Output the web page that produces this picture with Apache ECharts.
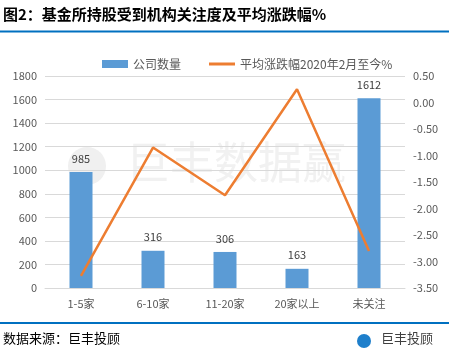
<!DOCTYPE html>
<html><head><meta charset="utf-8">
<script src="https://cdn.jsdelivr.net/npm/echarts@6/dist/echarts.min.js"></script>
<style>html,body{margin:0;padding:0;background:#fff}#c{width:449px;height:357px}</style>
</head><body><div id="c"></div>
<script>
const categories = ['1-5家','6-10家','11-20家','20家以上','未关注'];
const companyCount = [985, 316, 306, 163, 1612];
const avgChange = [-3.27, -0.85, -1.75, 0.25, -2.80];
const leftTicks = [0, 1800, 200];
const rightTicks = [-3.5, 0.5, 0.5];

const FONT = '"Noto Sans CJK SC", "Noto Sans", sans-serif';
const chart = echarts.init(document.getElementById('c'));
chart.setOption({
  animation: false,
  backgroundColor: '#fff',
  textStyle: { fontFamily: FONT },
  graphic: [
    { type: 'text', left: 3, top: 7, style: { text: '图2：基金所持股受到机构关注度及平均涨跌幅%', font: 'bold 15px ' + FONT, fill: '#000' } },
    { type: 'rect', shape: { x: 0, y: 30.5, width: 449, height: 2 }, style: { fill: '#0070C0' } },
    { type: 'rect', shape: { x: 0, y: 322, width: 449, height: 2 }, style: { fill: '#0070C0' } },
    { type: 'text', left: 3, top: 332, style: { text: '数据来源：巨丰投顾', font: '13px ' + FONT, fill: '#000' } },
    { type: 'circle', shape: { cx: 364, cy: 341, r: 7 }, style: { fill: '#1E7FCB' } },
    { type: 'text', left: 381, top: 332, style: { text: '巨丰投顾', font: '13px ' + FONT, fill: '#404040' } },
    { type: 'circle', z: -1, shape: { cx: 87, cy: 166, r: 19 }, style: { fill: '#f0f0f0' } },
    { type: 'text', z: -1, left: 126, top: 140, style: { text: '巨丰数据赢', font: '44px ' + FONT, fill: '#f1f1f1' } }
  ],
  legend: {
    top: 53, left: 97, itemGap: 28, itemWidth: 26, itemHeight: 8, symbolKeepAspect: true,
    textStyle: { color: '#595959', fontSize: 12, fontFamily: FONT },
    data: [
      { name: '公司数量', icon: 'rect' },
      { name: '平均涨跌幅2020年2月至今%', icon: 'path://M0,0h26v3h-26z', itemStyle: { color: '#ED7D31' } }
    ]
  },
  grid: { left: 45, right: 44, top: 76, bottom: 69 },
  xAxis: {
    type: 'category', data: categories,
    axisLine: { lineStyle: { color: '#d9d9d9' } }, axisTick: { show: false },
    axisLabel: { color: '#595959', fontSize: 11, margin: 10 }
  },
  yAxis: [
    { type: 'value', min: leftTicks[0], max: leftTicks[1], interval: leftTicks[2],
      axisLine: { show: false }, axisTick: { show: false },
      splitLine: { lineStyle: { color: '#d9d9d9' } },
      axisLabel: { color: '#595959', fontSize: 11, formatter: v => String(v) } },
    { type: 'value', min: rightTicks[0], max: rightTicks[1], interval: rightTicks[2],
      axisLine: { show: false }, axisTick: { show: false }, splitLine: { show: false },
      axisLabel: { color: '#595959', fontSize: 11, formatter: v => v.toFixed(2) } }
  ],
  series: [
    { name: '公司数量', type: 'bar', data: companyCount, barWidth: 23,
      itemStyle: { color: '#5B9BD5' },
      label: { show: true, position: 'top', color: '#404040', fontSize: 11, distance: 8 } },
    { name: '平均涨跌幅2020年2月至今%', type: 'line', yAxisIndex: 1, data: avgChange,
      symbol: 'none', lineStyle: { color: '#ED7D31', width: 2.5 }, itemStyle: { color: '#ED7D31' } }
  ]
});
</script></body></html>
